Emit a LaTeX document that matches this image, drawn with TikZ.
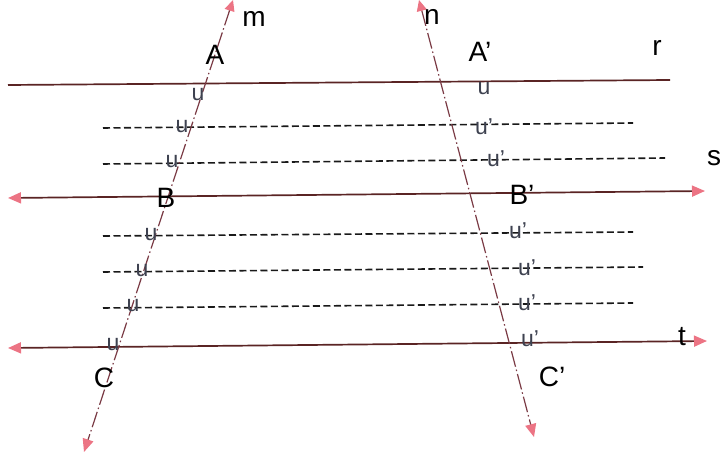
\documentclass[tikz,border=0pt]{standalone}
\usepackage{fontspec}
\setmainfont{Liberation Sans}
\usetikzlibrary{arrows.meta}
\definecolor{linered}{HTML}{5A2424}
\definecolor{tipred}{HTML}{EC7484}
\definecolor{transv}{HTML}{7A3A44}
\definecolor{ugray}{HTML}{3E4250}
\begin{document}
\begin{tikzpicture}[x=1pt,y=-1pt,
  parline/.style={draw=linered,line width=1.7pt},
  transline/.style={draw=transv,line width=1.2pt,dash pattern=on 16pt off 3pt on 1.5pt off 3pt},
  dline/.style={draw=black!90,line width=1.6pt,dash pattern=on 7pt off 3.5pt},
  lbl/.style={font=\fontsize{28}{28}\selectfont,inner sep=0pt},
  ulbl/.style={font=\fontsize{23}{23}\selectfont,inner sep=0pt,text=ugray}]
\useasboundingbox (0,0) rectangle (720,454);
% end points
\coordinate (r1) at (8,85);   \coordinate (r2) at (670,80);
\coordinate (s1) at (8,198);  \coordinate (s2) at (705,191);
\coordinate (t1) at (8,348);  \coordinate (t2) at (707,341);
\coordinate (m1) at (233,0);  \coordinate (m2) at (84,452);
\coordinate (n1) at (419,0);  \coordinate (n2) at (534,437);
\coordinate (d1a) at (103,128); \coordinate (d1b) at (633,123);
\coordinate (d2a) at (103,164); \coordinate (d2b) at (665,158);
\coordinate (d3a) at (103,236); \coordinate (d3b) at (633,232);
\coordinate (d4a) at (103,272); \coordinate (d4b) at (643,267);
\coordinate (d5a) at (103,308); \coordinate (d5b) at (633,303);
% parallel lines
\draw[parline] (r1) -- (r2);
\draw[parline,{Triangle[length=13pt,width=11pt,color=tipred]}-{Triangle[length=13pt,width=11pt,color=tipred]}] (s1) -- (s2);
\draw[parline,{Triangle[length=13pt,width=11pt,color=tipred]}-{Triangle[length=13pt,width=11pt,color=tipred]}] (t1) -- (t2);
% dashed lines
\draw[dline] (d1a) -- (d1b);
\draw[dline] (d2a) -- (d2b);
\draw[dline] (d3a) -- (d3b);
\draw[dline] (d4a) -- (d4b);
\draw[dline] (d5a) -- (d5b);
% transversals
\draw[transline,{Triangle[length=11pt,width=10pt,color=tipred]}-{Triangle[length=13pt,width=11pt,color=tipred]}] (m1) -- (m2);
\draw[transline,{Triangle[length=11pt,width=10pt,color=tipred]}-{Triangle[length=13pt,width=11pt,color=tipred]}] (n1) -- (n2);
% labels
\node[lbl] (lm) at (254,19) {m};
\node[lbl] (lA) at (215,55) {A};
\node[lbl] (lB) at (166,198) {B};
\node[lbl] (lC) at (104,378) {C};
\node[lbl] (ln) at (432,17) {n};
\node[lbl] (lA2) at (480,52) {A’};
\node[lbl] (lB2) at (522,195) {B’};
\node[lbl] (lC2) at (552,377) {C’};
\node[lbl] (lr) at (657,48) {r};
\node[lbl] (ls) at (714,158) {s};
\node[lbl] (lt) at (682,337) {t};
% segment marks on m
\node[ulbl] (u1) at (198,95) {u};
\node[ulbl] (u2) at (182,127) {u};
\node[ulbl] (u3) at (172,162) {u};
\node[ulbl] (u4) at (151,235) {u};
\node[ulbl] (u5) at (142,271) {u};
\node[ulbl] (u6) at (133,306) {u};
\node[ulbl] (u7) at (113,345) {u};
% segment marks on n
\node[ulbl] (v1) at (484,89) {u};
\node[ulbl] (v2) at (484,127) {u’};
\node[ulbl] (v3) at (496,159) {u’};
\node[ulbl] (v4) at (518,231) {u’};
\node[ulbl] (v5) at (527,268) {u’};
\node[ulbl] (v6) at (527,303) {u’};
\node[ulbl] (v7) at (530,339) {u’};
\end{tikzpicture}
\end{document}
